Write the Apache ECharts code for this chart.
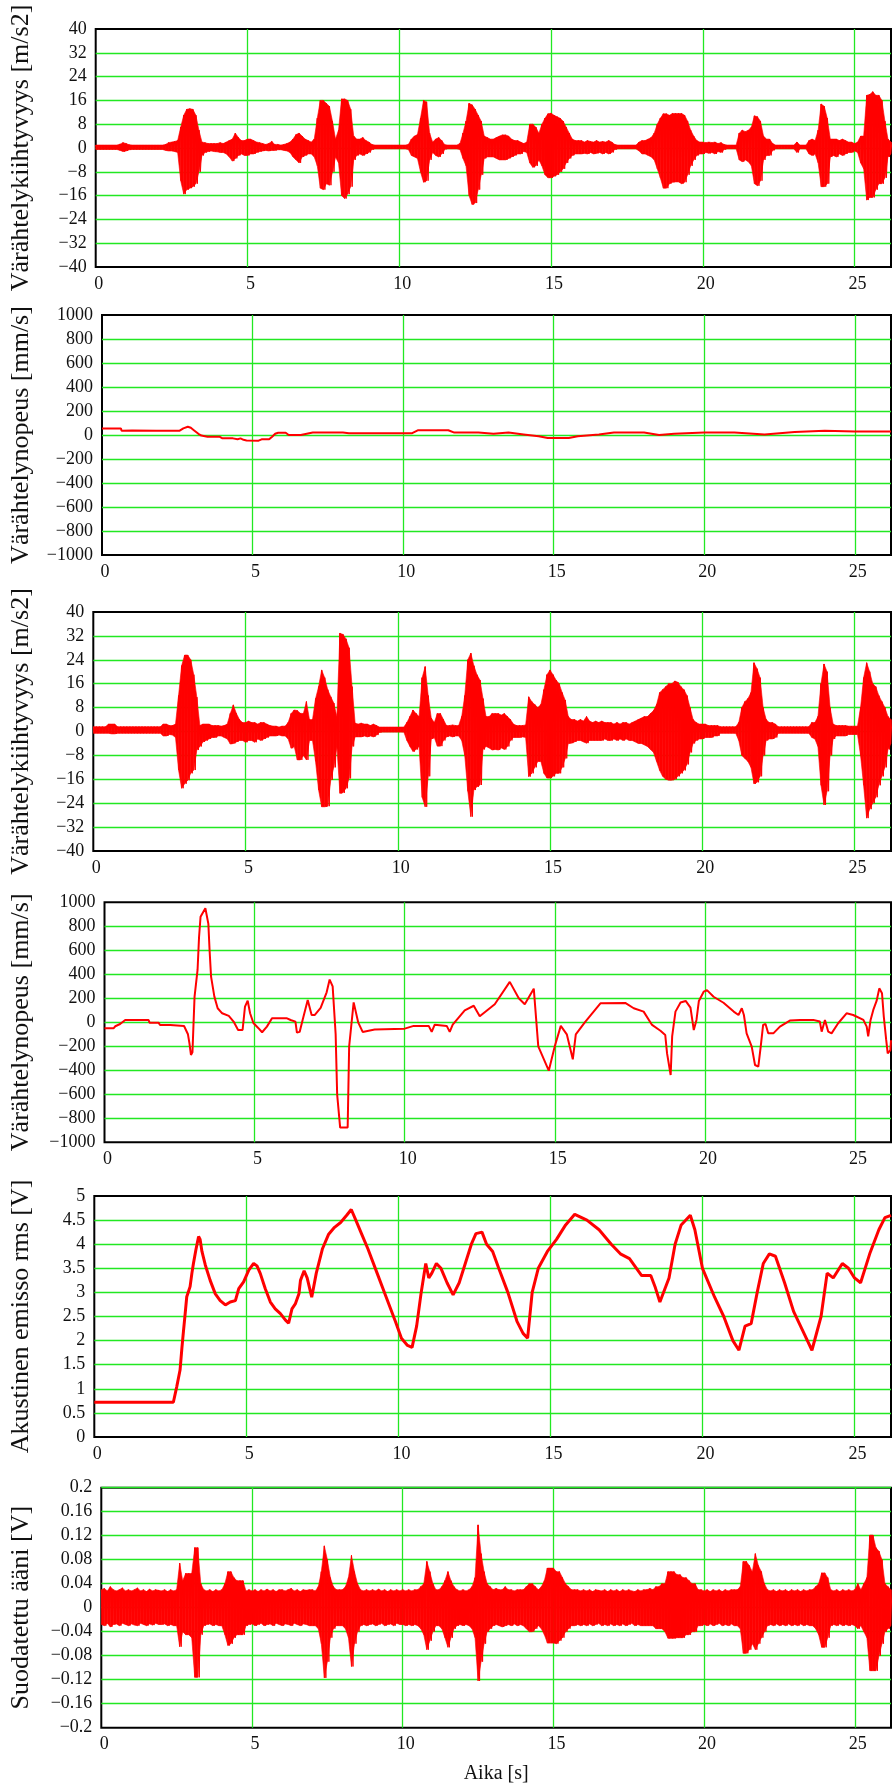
<!DOCTYPE html>
<html>
<head>
<meta charset="utf-8">
<script src="https://cdn.jsdelivr.net/npm/echarts@6/dist/echarts.min.js"></script>
<style>
html,body{margin:0;padding:0;background:#fff;}
#c{width:892px;height:1786px;}
</style>
</head>
<body>
<div id="c"></div>
<script>
// ---------------- DATA ----------------
// Envelope samples every 0.1 s (t = 0.0 ... 26.2): upper / lower extremes
const acc1Hi = [
1,1,1,1,1,1,1,1,1.3,1.8,
1.5,1.1,1,1,1,1,1,1,1,1,
1,1,1,1.2,1.8,2,2.2,2.5,7,11,
13,13.2,13,11,6,2,1.8,1.5,1.5,1.5,
1.5,1.8,1.5,2,2.5,3,5,3.5,2.5,2.5,
3,3,2.5,2,1.8,1.5,1.2,1.5,2.2,1.2,
1.2,1,1.2,1.5,2,3,4.5,5,4,3,
2.5,2,3,10,16,16,15,14,9,3,
6,16.5,16.5,16,13,4,3,3,3.5,2.5,
2,1.2,1,1,1,1,1,1,1,1,
1,1,1,1.2,3,4,4.5,10,16,15.5,
5,2,3,3.5,2.5,1.1,1,1,1,1,
1.5,5,9,15,14.5,13,11,9,4,3.5,
3,3,3.5,4,4.4,4.4,4,3,2.5,2.5,
2,1.5,2,8,8,7,5,8,10,11.5,
11.7,11,10.5,10,9,7,5,3,2.5,2.5,
2.5,2,2.5,2.2,2,2.5,2,2.2,2,2.5,
2,1.2,1,1,1,1,1,1,1,2,
2.5,2.5,3,3.5,5,8,10,11.5,11.5,11,
11.6,11.6,11.6,11.6,11,9,6,4,2.5,2,
2,1.8,2,1.8,2,1.5,1.8,1.2,1,1,
1,1,5,6,5.5,6,7,10.8,10.5,9,
4,3,3,1.5,1,1,1,1,1,1,
1,2,1,1,1,2.5,3,2.5,6,14.8,
14,10,3,3,3,2.5,3,2.5,2,2,
1.5,2,4,4,17.7,18,18.9,17.7,17.7,16,
9,3,2];
const acc1Lo = [
-.5,-.5,-.5,-.5,-.5,-.5,-.5,-.5,-.8,-1.2,
-1,-.6,-.5,-.5,-.5,-.5,-.5,-.5,-.5,-.5,
-.5,-.5,-.5,-.8,-1,-1,-1.2,-1.5,-11,-15.5,
-14,-13.5,-13,-12,-8,-2.5,-1.5,-1.2,-1,-1.2,
-1.3,-1.5,-1.5,-2,-3,-4.4,-3.5,-2.5,-2,-2.5,
-2.5,-2,-2,-1.5,-1.2,-1,-.8,-1,-.8,-.8,
-.6,-.6,-.8,-1,-1.5,-3,-4,-5,-3,-2.5,
-2,-2,-3,-6,-13.5,-14,-12,-12.5,-8,-3,
-5,-16,-17,-15.5,-13,-4,-2.5,-2,-2.5,-2,
-1.5,-.5,-.3,-.3,-.3,-.3,-.3,-.3,-.3,-.3,
-.3,-.3,-.3,-.5,-2.5,-3,-3.5,-8,-11.5,-11,
-4,-1.5,-2.5,-3,-2,-.4,-.3,-.3,-.3,-.3,
-.5,-3.5,-6,-16,-19,-18.5,-14,-9,-3.5,-3,
-3,-3,-3.5,-4,-4,-4,-3.5,-3,-2.5,-2,
-2,-1.2,-1.5,-5,-6.5,-6,-4,-6,-9,-10,
-10,-9.5,-9,-8,-7,-5,-3.5,-2.5,-2,-2,
-2,-1.8,-2,-1.5,-2,-1.8,-1.5,-2,-1.5,-2,
-1.5,-.5,-.3,-.3,-.3,-.3,-.3,-.3,-.3,-1,
-2,-2,-2.5,-3,-4,-7,-10,-13.5,-13.5,-12,
-11.5,-11.4,-11.4,-12,-11.5,-9,-6,-4,-2.5,-2,
-2,-1.5,-1.8,-1.5,-2,-1.2,-1.5,-.5,-.3,-.3,
-.3,-.3,-4,-4.6,-4,-4.6,-6,-12,-12.7,-11,
-4,-2.5,-2.5,-.8,-.3,-.3,-.3,-.3,-.3,-.3,
-.3,-1.5,-.3,-.3,-.3,-2,-2.5,-2,-5,-13,
-13,-12,-3,-2.5,-3,-2,-2.5,-2,-1.5,-1.5,
-1,-1.5,-5,-7,-17.5,-16.6,-16.6,-14,-12,-12,
-10,-3,-2];

const acc2Hi = [
1.6,1.6,1.6,1.6,1.6,2.5,2.5,2.5,1.6,1.6,
1.6,1.6,1.6,1.6,1.6,1.6,1.6,1.6,1.6,1.6,
1.6,1.6,1.6,2.5,2.5,2,2,2.5,12,22,
25.6,25.6,24,19,11.5,2,2.5,2.5,2.5,2,
2,2,1.8,2,2.5,6,8.9,6,4,3,
3,3.5,3,3,2.5,3,3,2.5,2,1.8,
1.8,1.5,1.8,1.8,3,6,7.2,7,6.1,6,
10,4,4,11,15,20.6,18,14,11.6,9.5,
5,32.9,32.5,31,28,15,2.8,2.5,2.8,2.5,
2.5,2,2.5,2,1.5,1.5,1.5,1.5,1.5,1.5,
1.5,1.5,1.5,3,5,7.2,6,5,18,21.7,
12,4.5,3,6,6,4,2,2,2.2,2,
2,5,12,24,26.2,22,19,17.2,11,5,
5,6,6,6,5.5,6,5,4,2.5,2,
2,2,2.2,11.6,10,9,8,9,14,19,
20.6,19,17.2,16,13,10.5,5,4,4,3.5,
4,3.5,5,3.5,3,3.5,3,3.5,3,3,
3,2.5,3,2.5,3,3,2.5,3,3.5,4,
4.5,5,5,6,7,9,13,14,15,16,
16,16.9,16.5,15,14,12,8,4,3,2.5,
2.5,2.5,2,2,2,2,1.6,1.6,1.6,1.6,
1.6,1.6,3,8,10,11,13,23,21,18,
8,4,3,3,2.5,1.6,1.6,1.6,1.6,1.6,
1.6,1.6,1.6,1.6,1.6,1.6,3,3,5,16,
22.6,20,8,2.5,2,2,2,2,1.8,1.8,
1.8,1.8,8,18,23,20,16,15,12,10,
8,5,4];
const acc2Lo = [
-.6,-.6,-.6,-.6,-.6,-.6,-.8,-.8,-.6,-.6,
-.6,-.6,-.6,-.6,-.6,-.6,-.6,-.6,-.6,-.6,
-.6,-.6,-.6,-1.5,-1.5,-1,-1.2,-2,-12.9,-19,
-17.5,-16.3,-14,-12.9,-6.2,-5,-3.5,-3,-2.5,-2,
-2,-1.5,-1.5,-2,-2.5,-4.2,-4,-3.5,-3,-3,
-3.6,-3,-3,-3.6,-2.5,-3,-2.5,-2,-1.5,-1.5,
-1.5,-1.2,-1.5,-1.5,-2.5,-5.6,-5,-9.5,-9.5,-8,
-9.5,-3,-3,-10,-19.6,-25.2,-25.2,-25,-16.2,-12,
-5,-20.7,-20.5,-19,-15.7,-5,-1.8,-1.8,-1.8,-1.5,
-1.8,-1.5,-1.8,-1.2,-.3,-.2,-.2,-.2,-.2,-.2,
-.2,-.2,-.2,-3,-5,-6.7,-6,-5,-22,-25.2,
-15,-2.5,-2,-4.9,-4.9,-3,-1.8,-1.5,-1.8,-1.5,
-1.5,-3,-8,-20,-28.5,-19.6,-18.5,-17.9,-6,-5,
-5.5,-6.2,-6,-6.2,-5.5,-6,-5,-3,-2,-2,
-2,-1.8,-2,-15.1,-14,-12,-10,-10,-14,-15.6,
-15.6,-15,-14,-14,-12,-9,-4,-3.9,-3.5,-3,
-3,-3.5,-3.9,-3,-3,-3,-3,-3,-2.5,-3,
-3,-2.5,-3,-2.5,-3,-2.5,-3,-3,-3.5,-4,
-4,-4.5,-5,-6,-7,-10,-13,-15,-16,-16.3,
-16.3,-16,-15,-14,-13,-11,-7,-4,-3,-2.5,
-2.5,-2,-2,-2,-1.5,-1.5,-.6,-.6,-.6,-.6,
-.6,-.6,-3,-8,-9,-10,-12,-17.5,-17,-15,
-8,-3,-2.5,-2.5,-2,-.6,-.6,-.6,-.6,-.6,
-.6,-.6,-.6,-.6,-.6,-.6,-2,-2.5,-5,-18,
-24.6,-20,-8,-2.5,-1.5,-1.5,-1.5,-1.5,-1,-1,
-1,-1,-8,-18,-29,-26,-24,-22,-18,-15,
-12,-6,-4];

const sndHi = [
.03,.032,.028,.035,.03,.028,.03,.033,.028,.03,
.028,.03,.033,.028,.03,.027,.031,.028,.03,.029,
.028,.03,.027,.03,.028,.03,.074,.045,.057,.057,
.057,.1,.1,.04,.03,.028,.03,.027,.03,.028,
.03,.04,.06,.06,.05,.045,.045,.045,.028,.03,
.028,.03,.027,.03,.028,.031,.028,.03,.027,.03,
.03,.028,.03,.032,.028,.03,.027,.03,.029,.03,
.03,.028,.035,.06,.103,.08,.05,.035,.03,.03,
.03,.035,.05,.087,.06,.04,.03,.028,.03,.028,
.03,.028,.031,.028,.03,.027,.03,.028,.03,.028,
.03,.028,.03,.028,.03,.03,.035,.04,.077,.06,
.04,.03,.03,.035,.045,.06,.045,.035,.03,.028,
.03,.028,.03,.035,.05,.138,.09,.06,.04,.035,
.03,.032,.03,.03,.035,.03,.03,.028,.03,.03,
.03,.035,.04,.04,.035,.03,.035,.045,.066,.066,
.066,.06,.06,.05,.04,.035,.03,.03,.03,.028,
.03,.028,.03,.027,.03,.029,.028,.03,.027,.03,
.028,.03,.027,.03,.028,.03,.028,.027,.03,.028,
.03,.03,.032,.03,.035,.035,.04,.04,.06,.06,
.06,.055,.055,.05,.05,.045,.04,.04,.03,.03,
.028,.03,.027,.03,.028,.03,.027,.03,.028,.03,
.03,.03,.035,.077,.077,.07,.06,.09,.07,.06,
.04,.03,.028,.03,.027,.03,.028,.03,.027,.03,
.028,.03,.027,.03,.028,.03,.03,.035,.04,.058,
.058,.05,.03,.028,.03,.027,.03,.028,.03,.028,
.03,.04,.03,.04,.05,.121,.121,.1,.094,.08,
.04,.035,.03];
const sndLo = [
-.028,-.03,-.026,-.032,-.028,-.027,-.03,-.026,-.028,-.03,
-.027,-.029,-.03,-.026,-.028,-.03,-.027,-.029,-.026,-.028,
-.028,-.027,-.03,-.028,-.03,-.03,-.065,-.04,-.045,-.045,
-.05,-.116,-.116,-.045,-.03,-.028,-.027,-.03,-.028,-.03,
-.03,-.045,-.063,-.06,-.05,-.045,-.045,-.045,-.03,-.028,
-.027,-.03,-.028,-.026,-.03,-.028,-.027,-.03,-.026,-.028,
-.03,-.027,-.028,-.03,-.026,-.028,-.03,-.027,-.028,-.03,
-.03,-.03,-.035,-.06,-.117,-.09,-.05,-.035,-.03,-.03,
-.03,-.035,-.05,-.098,-.06,-.04,-.03,-.028,-.03,-.028,
-.027,-.03,-.028,-.026,-.03,-.028,-.027,-.03,-.026,-.028,
-.028,-.03,-.028,-.03,-.028,-.03,-.035,-.045,-.07,-.055,
-.04,-.03,-.03,-.035,-.05,-.066,-.05,-.035,-.03,-.028,
-.03,-.028,-.03,-.035,-.05,-.122,-.09,-.06,-.04,-.035,
-.03,-.028,-.03,-.032,-.03,-.028,-.03,-.027,-.03,-.028,
-.03,-.035,-.04,-.04,-.035,-.03,-.035,-.045,-.059,-.059,
-.059,-.06,-.055,-.05,-.04,-.035,-.03,-.03,-.028,-.03,
-.028,-.03,-.027,-.03,-.028,-.026,-.03,-.028,-.03,-.027,
-.03,-.028,-.03,-.027,-.03,-.028,-.026,-.03,-.028,-.03,
-.03,-.03,-.03,-.03,-.035,-.035,-.035,-.04,-.051,-.051,
-.051,-.05,-.05,-.05,-.045,-.045,-.04,-.04,-.03,-.03,
-.028,-.03,-.027,-.03,-.028,-.026,-.03,-.028,-.03,-.027,
-.03,-.03,-.035,-.076,-.076,-.07,-.06,-.07,-.06,-.05,
-.04,-.03,-.028,-.03,-.027,-.03,-.028,-.03,-.027,-.03,
-.028,-.03,-.027,-.03,-.028,-.03,-.03,-.035,-.045,-.066,
-.066,-.05,-.03,-.028,-.03,-.027,-.03,-.028,-.03,-.028,
-.03,-.035,-.03,-.04,-.05,-.105,-.105,-.105,-.08,-.06,
-.04,-.035,-.03];

// Polyline breakpoints [time s, value]
const vel1 = [[0,55],[0.63,55],[0.65,36],[1.0,38],[1.8,36],[2.58,36],[2.7,55],[2.85,69],[2.95,60],[3.05,40],[3.2,10],[3.3,-5],[3.5,-14],[3.9,-14],[4.0,-28],[4.35,-28],[4.5,-36],[4.6,-28],[4.7,-40],[4.8,-45],[5.2,-47],[5.3,-36],[5.55,-36],[5.65,-14],[5.75,10],[5.85,19],[6.1,19],[6.2,0],[6.6,0],[6.8,10],[7.0,20],[8.0,20],[8.2,15],[9.0,15],[10.3,15],[10.5,40],[11.5,40],[11.7,20],[12.5,20],[13.0,10],[13.5,20],[14.0,5],[14.5,-10],[14.8,-25],[15.5,-25],[15.8,-10],[16.5,5],[17.0,20],[18.0,20],[18.5,0],[19.0,10],[20.0,20],[21.0,20],[22.0,5],[23.0,25],[24.0,35],[25.0,30],[26.2,30]];

const vel2 = [[0,-50],[0.3,-50],[0.36,-33],[0.52,-14],[0.69,19],[1.47,19],[1.5,-3],[1.8,-3],[1.85,-22],[2.19,-22],[2.25,-31],[2.65,-31],[2.78,-100],[2.83,-175],[2.88,-272],[2.93,-250],[2.96,-50],[3.0,214],[3.06,230],[3.1,436],[3.15,713],[3.2,880],[3.36,950],[3.41,950],[3.46,820],[3.5,602],[3.55,380],[3.66,214],[3.77,117],[3.92,75],[4.14,53],[4.3,6],[4.45,-64],[4.6,-64],[4.68,130],[4.77,180],[4.85,75],[4.96,-6],[5.12,-47],[5.25,-83],[5.41,-36],[5.58,33],[6.08,33],[6.2,19],[6.36,6],[6.41,-86],[6.5,-80],[6.6,20],[6.77,185],[6.9,60],[7.0,60],[7.2,120],[7.4,250],[7.5,356],[7.6,300],[7.7,-100],[7.75,-600],[7.85,-877],[8.1,-877],[8.15,-200],[8.3,166],[8.45,0],[8.6,-80],[9.0,-60],[10.0,-53],[10.3,-30],[10.8,-30],[10.9,-80],[11.0,-20],[11.4,-30],[11.5,-80],[11.6,-20],[12.0,100],[12.3,138],[12.5,50],[13.0,150],[13.5,337],[13.8,200],[14.0,150],[14.3,280],[14.45,-200],[14.8,-403],[15.0,-200],[15.2,-30],[15.4,-100],[15.6,-308],[15.7,-100],[16.0,0],[16.52,158],[17.36,160],[17.63,117],[17.96,89],[18.24,-22],[18.52,-70],[18.68,-106],[18.74,-259],[18.8,-259],[18.86,-439],[18.91,-117],[19.02,89],[19.19,165],[19.36,178],[19.52,122],[19.63,-64],[19.72,20],[19.8,178],[19.96,255],[20.07,268],[20.29,213],[20.62,163],[20.96,89],[21.12,61],[21.23,117],[21.3,61],[21.39,-92],[21.56,-203],[21.67,-356],[21.78,-369],[21.86,-203],[21.94,-22],[22.02,-14],[22.11,-92],[22.28,-92],[22.5,-36],[22.83,14],[23.17,20],[23.61,20],[23.83,6],[23.89,-78],[24.0,20],[24.06,20],[24.11,-78],[24.22,-92],[24.44,-8],[24.72,75],[24.94,61],[25.28,20],[25.39,-36],[25.44,-117],[25.52,20],[25.61,103],[25.72,178],[25.81,283],[25.9,242],[25.96,47],[26.04,-147],[26.09,-259],[26.18,-231],[26.2,-150]];

const rms = [[0,0.72],[2.6,0.72],[2.71,1.04],[2.82,1.39],[2.88,1.84],[2.93,2.18],[2.99,2.57],[3.04,2.91],[3.15,3.12],[3.21,3.4],[3.26,3.6],[3.34,3.88],[3.43,4.16],[3.48,4.1],[3.54,3.85],[3.65,3.57],[3.81,3.25],[3.98,2.97],[4.14,2.83],[4.31,2.74],[4.47,2.8],[4.64,2.83],[4.75,3.08],[4.91,3.22],[5.08,3.46],[5.24,3.6],[5.35,3.55],[5.46,3.39],[5.62,3.08],[5.79,2.8],[5.95,2.66],[6.12,2.56],[6.28,2.43],[6.39,2.36],[6.5,2.66],[6.61,2.76],[6.73,2.97],[6.78,3.25],[6.9,3.45],[7.0,3.3],[7.15,2.9],[7.3,3.4],[7.5,3.9],[7.7,4.2],[7.9,4.35],[8.1,4.45],[8.3,4.6],[8.45,4.72],[8.6,4.5],[8.8,4.2],[9.0,3.9],[9.3,3.4],[9.6,2.9],[9.9,2.4],[10.1,2.05],[10.3,1.9],[10.45,1.86],[10.6,2.3],[10.75,3.0],[10.9,3.6],[11.0,3.3],[11.1,3.4],[11.25,3.6],[11.4,3.5],[11.6,3.2],[11.8,2.95],[12.0,3.2],[12.2,3.6],[12.4,4.0],[12.55,4.22],[12.75,4.25],[12.9,4.0],[13.1,3.85],[13.3,3.5],[13.6,3.0],[13.9,2.4],[14.1,2.15],[14.25,2.05],[14.4,3.0],[14.6,3.5],[14.9,3.85],[15.2,4.1],[15.5,4.4],[15.8,4.62],[16.2,4.5],[16.6,4.3],[17.0,4.0],[17.3,3.8],[17.6,3.7],[18.0,3.35],[18.3,3.35],[18.45,3.1],[18.6,2.8],[18.9,3.3],[19.1,4.0],[19.3,4.4],[19.6,4.6],[19.75,4.3],[20.0,3.5],[20.4,2.9],[20.7,2.5],[21.0,2.0],[21.2,1.8],[21.4,2.3],[21.6,2.35],[21.8,3.0],[22.0,3.6],[22.2,3.8],[22.4,3.75],[22.7,3.2],[23.0,2.6],[23.3,2.2],[23.6,1.8],[23.9,2.5],[24.1,3.4],[24.3,3.3],[24.6,3.6],[24.8,3.5],[25.0,3.3],[25.2,3.2],[25.5,3.8],[25.8,4.3],[26.0,4.55],[26.2,4.6]];

const yNames = ['Värähtelykiihtyvyys [m/s2]','Värähtelynopeus [mm/s]','Värähtelykiihtyvyys [m/s2]','Värähtelynopeus [mm/s]','Akustinen emisso rms [V]','Suodatettu ääni [V]'];
const yMin = [-40,-1000,-40,-1000,0,-0.2];
const yMax = [40,1000,40,1000,5,0.2];
const yStep = [8,200,8,200,0.5,0.04];
const xName = 'Aika [s]';
const xMax = 26.2, xStep = 5;

// ---------------- LAYOUT ----------------
const gridLeft = [95.7,102,93.3,104.5,94.3,101.3];
const gridTop = [29,315,612,902.3,1196,1487.7];
const gridH = [238,240,239,240,241,240];

function zigzag(hi, lo){
  const out = [];
  const n = Math.min(hi.length, lo.length);
  for (let i = 0; i < n; i++){
    out.push([i/10, hi[i]]);
    out.push([i/10 + 0.05, lo[i]]);
  }
  return out;
}
// quads between consecutive envelope samples: [t0, hi0, lo0, t1, hi1, lo1]
function bandQuads(hi, lo){
  const out = [];
  const n = Math.min(hi.length, lo.length);
  for (let i = 0; i < n - 1; i++){
    out.push([i/10, hi[i], lo[i], (i+1)/10, hi[i+1], lo[i+1]]);
  }
  return out;
}
function fmt(v){
  if (Math.abs(v) < 1e-9) return '0';
  const s = String(+Math.abs(v).toFixed(4));
  return v < 0 ? '\u2212' + s : s;
}

const RED = '#ff0000';
const GREEN = '#22e822';
const FONT = 'Liberation Serif';
const grids = [], xAxes = [], yAxes = [];
for (let i = 0; i < 6; i++){
  grids.push({left: gridLeft[i], top: gridTop[i], height: gridH[i], right: 1,
    show: true, borderColor: '#000', borderWidth: 2, backgroundColor: 'transparent', containLabel: false});
  xAxes.push({type: 'value', gridIndex: i, min: 0, max: xMax, interval: xStep,
    axisLine: {show: false}, axisTick: {show: false},
    splitLine: {show: true, showMinLine: false, showMaxLine: false, lineStyle: {color: GREEN, width: 1.3}},
    axisLabel: {fontFamily: FONT, fontSize: 18, color: '#111', margin: 8, showMaxLabel: false, padding: [0,0,0,6]},
    name: i === 5 ? xName : '', nameLocation: 'middle', nameGap: 36,
    nameTextStyle: {fontFamily: FONT, fontSize: 20, color: '#111'}
  });
  yAxes.push({type: 'value', gridIndex: i, min: yMin[i], max: yMax[i], interval: yStep[i],
    axisLine: {show: false}, axisTick: {show: false},
    splitLine: {show: true, showMinLine: false, showMaxLine: i === 5, lineStyle: {color: GREEN, width: 1.3}},
    axisLabel: {fontFamily: FONT, fontSize: 18, color: '#111', margin: 9, formatter: fmt},
    name: yNames[i], nameLocation: 'middle', nameGap: gridLeft[i] - 34,
    nameTextStyle: {fontFamily: FONT, fontSize: 26, color: '#111'}
  });
}

function lineSeries(idx, data, width){
  return {type: 'line', xAxisIndex: idx, yAxisIndex: idx, data: data, symbol: 'none', showSymbol: false,
    lineStyle: {color: RED, width: width}, itemStyle: {color: RED}, animation: false, silent: true, z: 4};
}
function bandSeries(idx, hi, lo){
  return {type: 'custom', xAxisIndex: idx, yAxisIndex: idx, data: bandQuads(hi, lo),
    encode: {x: [0, 3], y: [1, 2]}, clip: true, silent: true, animation: false, z: 3,
    renderItem: function(params, api){
      const a = api.coord([api.value(0), api.value(1)]);
      const b = api.coord([api.value(3), api.value(4)]);
      const c = api.coord([api.value(3), api.value(5)]);
      const d = api.coord([api.value(0), api.value(2)]);
      return {type: 'polygon', shape: {points: [a, b, c, d]},
        style: {fill: RED, stroke: RED, lineWidth: 0.6}};
    }
  };
}

const chart = echarts.init(document.getElementById('c'), null, {renderer: 'canvas'});
chart.setOption({
  animation: false,
  backgroundColor: '#fff',
  grid: grids, xAxis: xAxes, yAxis: yAxes,
  series: [
    bandSeries(0, acc1Hi, acc1Lo),
    lineSeries(0, zigzag(acc1Hi, acc1Lo), 1),
    lineSeries(1, vel1, 2),
    bandSeries(2, acc2Hi, acc2Lo),
    lineSeries(2, zigzag(acc2Hi, acc2Lo), 1),
    lineSeries(3, vel2, 2),
    lineSeries(4, rms, 3),
    bandSeries(5, sndHi, sndLo),
    lineSeries(5, zigzag(sndHi, sndLo), 1)
  ]
});
</script>
</body>
</html>
